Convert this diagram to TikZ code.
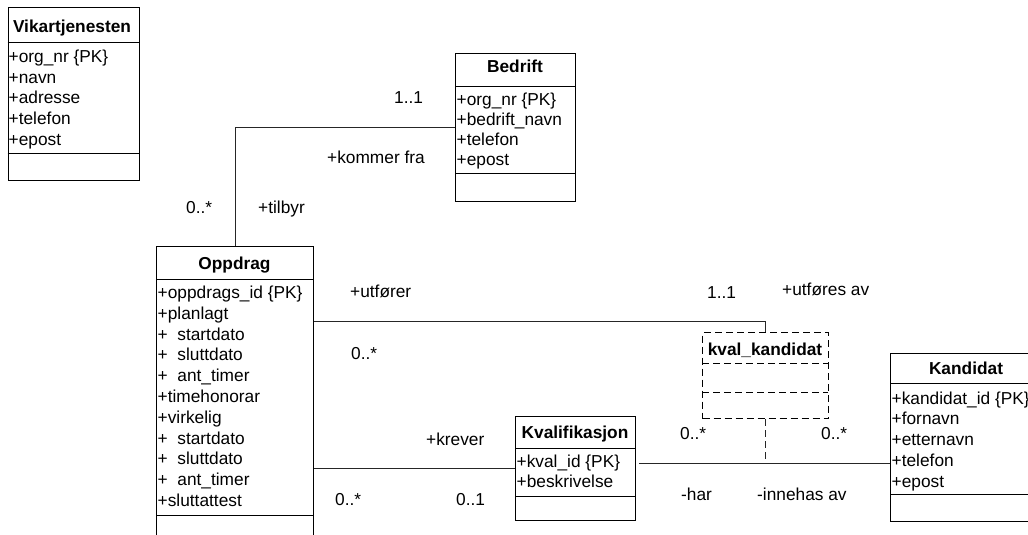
\documentclass[tikz,border=0pt]{standalone}
\usepackage{fontspec}
\setmainfont{Liberation Sans}
\newcommand\umlfont{\fontsize{17.3}{20}\selectfont}
\tikzset{
  cls/.style={draw, line width=1pt, rectangle, anchor=north west, inner sep=0pt, fill=white},
  kvbox/.style={cls, dashed, dash pattern=on 7pt off 4pt},
  sepline/.style={line width=1pt},
  dsep/.style={line width=1pt, dash pattern=on 7pt off 4pt},
  ttl/.style={font=\umlfont\bfseries, anchor=base, inner sep=0pt},
  attr/.style={font=\umlfont, anchor=base west, inner sep=0pt},
  lbl/.style={font=\umlfont, anchor=base west, inner sep=0pt},
  conn/.style={line width=0.9pt, draw=black!85},
  dconn/.style={line width=0.9pt, draw=black!85, dash pattern=on 7pt off 4pt},
}
\begin{document}
\begin{tikzpicture}[x=1pt, y=-1pt]
\useasboundingbox (0,0) rectangle (1028,535);
\fill[white] (0,0) rectangle (1028,535);
\clip (0,0) rectangle (1028,535);

% ---------- Vikartjenesten ----------
\node[cls, minimum width=131pt, minimum height=172.5pt] (vik) at (7.5,7.5) {};
\draw[sepline] (7.5,43) -- (138.5,43);
\draw[sepline] (7.5,153) -- (138.5,153);
\node[ttl] (vikt) at (72,33) {Vikartjenesten};
\foreach \t [count=\i from 0] in {{+org\_nr \{PK\}},{+navn},{+adresse},{+telefon},{+epost}}
  \node[attr] (vika\i) at (8.5,62.5+20.7*\i) {\t};

% ---------- Bedrift ----------
\node[cls, minimum width=120pt, minimum height=148pt] (bed) at (455,53) {};
\draw[sepline] (455,86) -- (575,86);
\draw[sepline] (455,173) -- (575,173);
\node[ttl] (bedt) at (515,73) {Bedrift};
\foreach \t [count=\i from 0] in {{+org\_nr \{PK\}},{+bedrift\_navn},{+telefon},{+epost}}
  \node[attr] (beda\i) at (456.5,105+20.3*\i) {\t};

% ---------- Oppdrag ----------
\node[cls, minimum width=157pt, minimum height=300pt] (opp) at (156,246) {};
\draw[sepline] (156,279) -- (313,279);
\draw[sepline] (156,515) -- (313,515);
\node[ttl] (oppt) at (234.5,269) {Oppdrag};
\foreach \t [count=\i from 0] in {{+oppdrags\_id \{PK\}},{+planlagt},{+~~startdato},{+~~sluttdato},{+~~ant\_timer},{+timehonorar},{+virkelig},{+~~startdato},{+~~sluttdato},{+~~ant\_timer},{+sluttattest}}
  \node[attr] (oppa\i) at (157.5,298.5+20.8*\i) {\t};

% ---------- kval_kandidat ----------
\node[kvbox, minimum width=126pt, minimum height=86pt] (kval) at (702,332) {};
\draw[dsep] (702,363) -- (828,363);
\draw[dsep] (702,392) -- (828,392);
\node[ttl] (kvalt) at (765,355) {kval\_kandidat};

% ---------- Kvalifikasjon ----------
\node[cls, minimum width=120pt, minimum height=104pt] (kvf) at (515,416) {};
\draw[sepline] (515,448) -- (635,448);
\draw[sepline] (515,496) -- (635,496);
\node[ttl] (kvft) at (575,438) {Kvalifikasjon};
\foreach \t [count=\i from 0] in {{+kval\_id \{PK\}},{+beskrivelse}}
  \node[attr] (kvfa\i) at (516.5,467+20.8*\i) {\t};

% ---------- Kandidat ----------
\node[cls, minimum width=152pt, minimum height=168pt] (kand) at (890,353) {};
\draw[sepline] (890,383) -- (1042,383);
\draw[sepline] (890,494) -- (1042,494);
\node[ttl] (kandt) at (966,374) {Kandidat};
\foreach \t [count=\i from 0] in {{+kandidat\_id \{PK\}},{+fornavn},{+etternavn},{+telefon},{+epost}}
  \node[attr] (kanda\i) at (891.5,404+20.8*\i) {\t};

% ---------- connectors ----------
\draw[conn] (opp.north) |- (bed.west);
\draw[conn] (opp.east |- 0,321) -| (kval.north);
\draw[conn] (opp.east |- kvf.west) -- (kvf.west);
\draw[conn, shorten <=3pt] (kvf.east |- 0,463) -- (kand.west |- 0,463);
\draw[dconn] (kval.south) -- (kval.south |- 0,463);

% ---------- labels ----------
\node[lbl] (l1) at (394,103) {1..1};
\node[lbl] (l2) at (327,163) {+kommer fra};
\node[lbl] (l3) at (186,213) {0..*};
\node[lbl] (l4) at (258,213) {+tilbyr};
\node[lbl] (l5) at (350,297) {+utfører};
\node[lbl] (l6) at (707,298) {1..1};
\node[lbl] (l7) at (782,295) {+utføres av};
\node[lbl] (l8) at (351,359) {0..*};
\node[lbl] (l9) at (426,445) {+krever};
\node[lbl] (l10) at (335,505) {0..*};
\node[lbl] (l11) at (456,505) {0..1};
\node[lbl] (l12) at (680,439) {0..*};
\node[lbl] (l13) at (821,439) {0..*};
\node[lbl] (l14) at (681,500) {-har};
\node[lbl] (l15) at (757,500) {-innehas av};
\end{tikzpicture}
\end{document}
